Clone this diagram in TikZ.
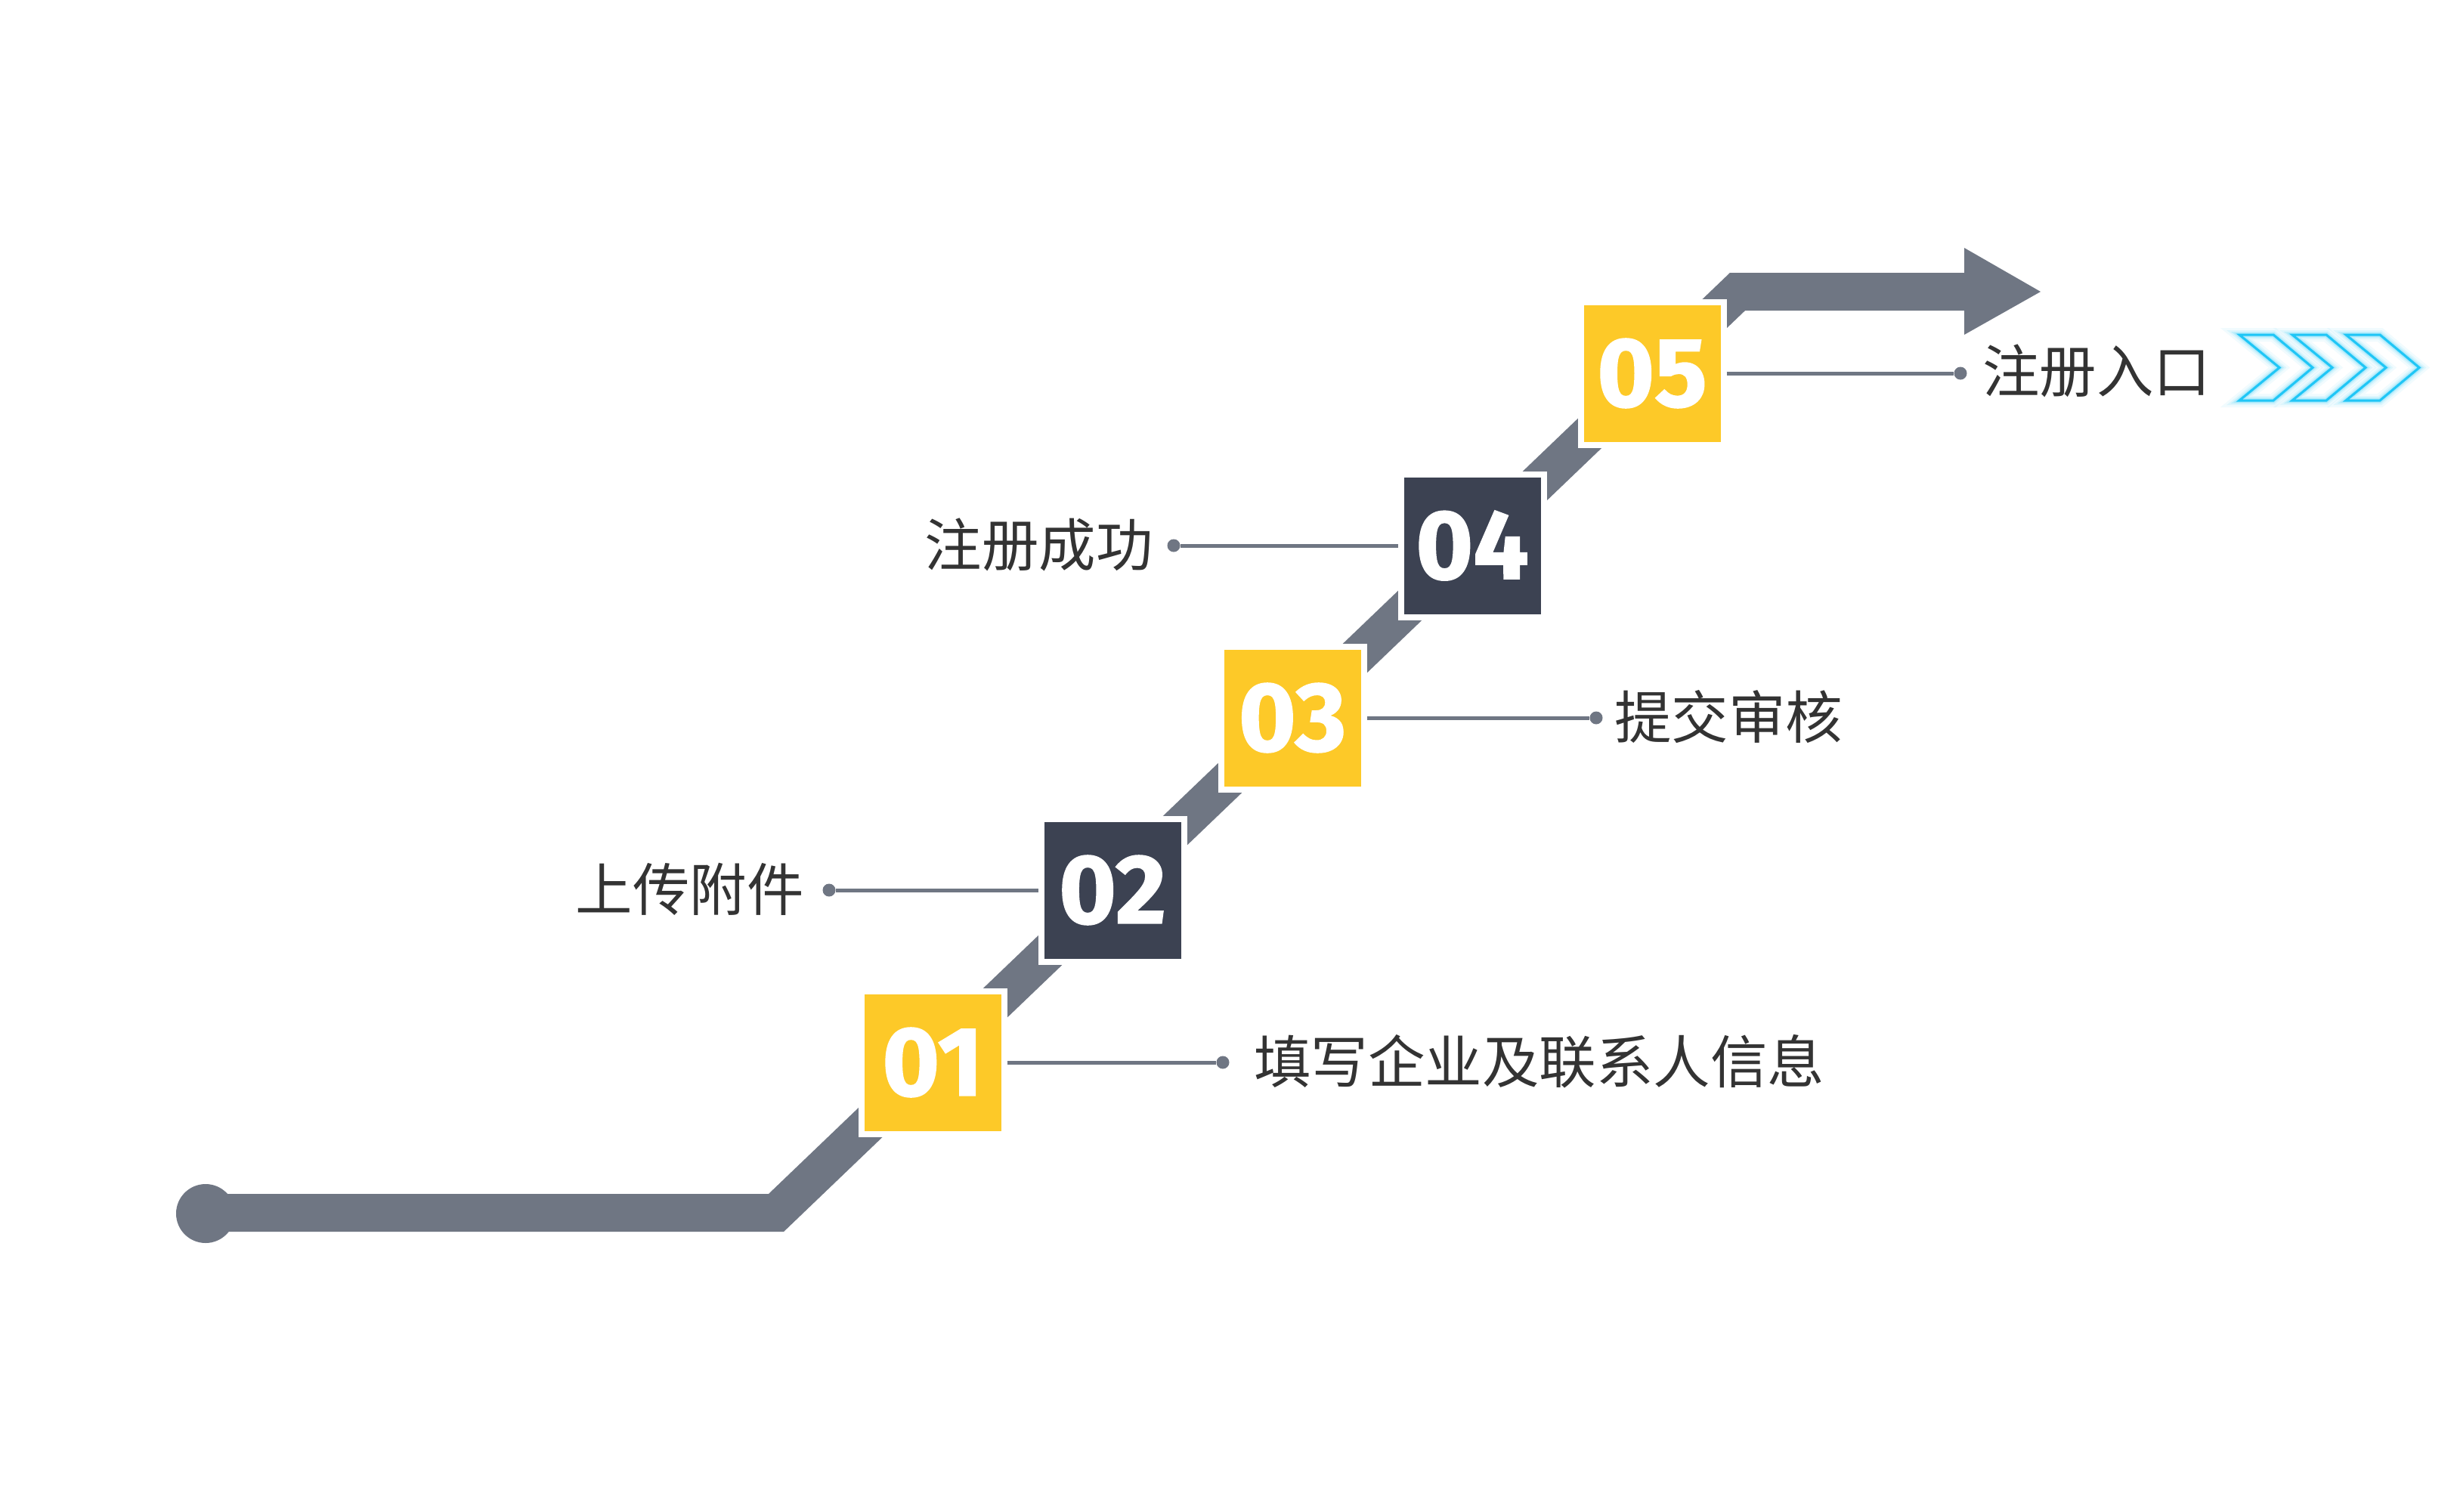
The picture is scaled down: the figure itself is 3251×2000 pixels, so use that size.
\documentclass[tikz,border=0pt]{standalone}
\usepackage{fontspec}
\newfontfamily\cjk{Noto Sans CJK SC}
\newfontfamily\numfont[BoldFeatures={FakeBold=1.3}]{Fira Sans}
\definecolor{bandc}{HTML}{6F7683}
\definecolor{yel}{HTML}{FDC928}
\definecolor{darkb}{HTML}{3C4252}
\definecolor{txt}{HTML}{333333}
\definecolor{cyanline}{HTML}{1FC6F6}
\definecolor{cyanglow}{HTML}{8FE2FB}
\begin{document}
\begin{tikzpicture}[x=1pt,y=-1pt,
  numbox/.style={draw=white, line width=8pt, minimum size=189pt, inner sep=0pt,
    font=\numfont\bfseries\fontsize{130}{130}\selectfont, text=white},
  ybox/.style={numbox, fill=yel},
  dbox/.style={numbox, fill=darkb},
  dotn/.style={circle, fill=bandc, minimum size=17pt, inner sep=0pt},
  conn/.style={draw=bandc, line width=5pt},
  lbl/.style={font=\cjk\fontsize{75.5}{90}\selectfont, text=txt, inner sep=0pt},
  band/.style={draw=bandc, line width=50pt, line join=miter},
  chev/.pic={
    \path[fill=white] (0,0) -- (45,0) -- (97,43.5) -- (45,87) -- (0,87) -- (53,43.5) -- cycle;
    \foreach \w/\o in {18/0.12, 12/0.2, 8/0.35, 5/0.6}{
      \draw[cyanglow, line width=\w pt, opacity=\o, line join=miter]
        (0,0) -- (45,0) -- (97,43.5) -- (45,87) -- (0,87) -- (53,43.5) -- cycle;}
    \draw[cyanline, line width=3pt, line join=miter]
      (0,0) -- (45,0) -- (97,43.5) -- (45,87) -- (0,87) -- (53,43.5) -- cycle;
  }]
\useasboundingbox[fill=white] (0,0) rectangle (3251,2000);

% main band
\draw[band] (272,1605) -- (1027,1605) -- (2299,386) -- (2600,386);
\fill[bandc] (2599,328) -- (2700,386) -- (2599,443) -- cycle;
\fill[bandc] (272,1606) circle (39);

% step boxes
\node[ybox] (b1) at (1234,1406) {01};
\node[dbox] (b2) at (1472,1178) {02};
\node[ybox] (b3) at (1710,950) {03};
\node[dbox] (b4) at (1948,722) {04};
\node[ybox] (b5) at (2186,494) {05};

% dots
\node[dotn] (d1) at (1618,1406) {};
\node[dotn] (d2) at (1097,1178) {};
\node[dotn] (d3) at (2112,950) {};
\node[dotn] (d4) at (1553,722) {};
\node[dotn] (d5) at (2594,494) {};

% connectors
\draw[conn] (b1.east) -- (d1);
\draw[conn] (b2.west) -- (d2);
\draw[conn] (b3.east) -- (d3);
\draw[conn] (b4.west) -- (d4);
\draw[conn] (b5.east) -- (d5);

% labels
\node[lbl, anchor=base west] (l1) at (1659,1433) {填写企业及联系人信息};
\node[lbl, anchor=base east] (l2) at (1064,1205) {上传附件};
\node[lbl, anchor=base west] (l3) at (2136,977) {提交审核};
\node[lbl, anchor=base east] (l4) at (1526,749) {注册成功};
\node[lbl, anchor=base west] (l5) at (2623,519) {注册入口};

% chevrons
\pic at (2963,443) {chev};
\pic at (3033,443) {chev};
\pic at (3104,443) {chev};
\end{tikzpicture}
\end{document}
